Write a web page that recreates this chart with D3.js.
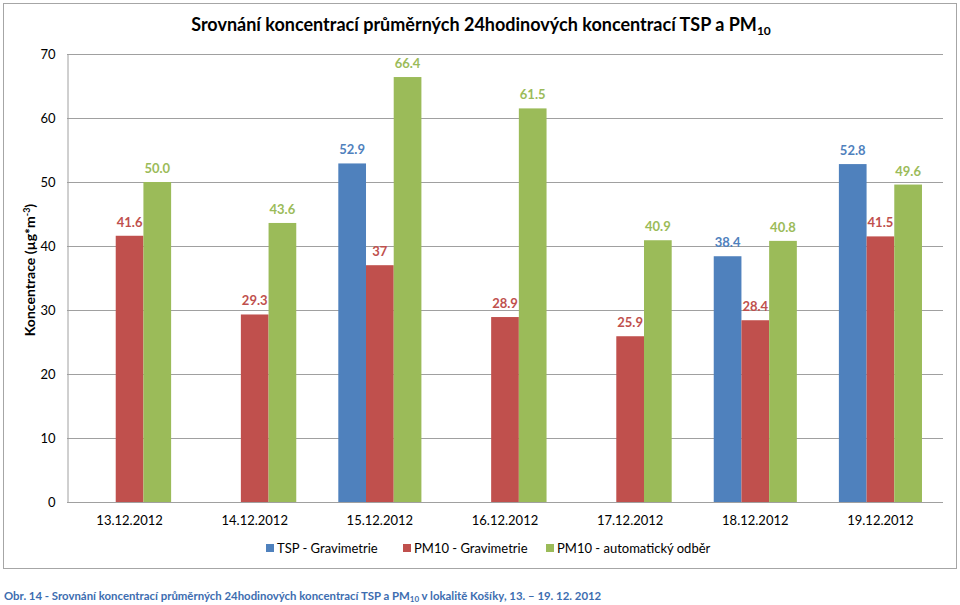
<!DOCTYPE html>
<html><head><meta charset="utf-8">
<script src="https://cdn.jsdelivr.net/npm/d3@7"></script>
<style>
body{margin:0;background:#fff;}
svg{font-family:Lato,"Open Sans",sans-serif;}
</style></head>
<body><svg id="c" width="960" height="605"></svg>
<script>
const categories = ["13.12.2012","14.12.2012","15.12.2012","16.12.2012","17.12.2012","18.12.2012","19.12.2012"];
const seriesNames = ["TSP - Gravimetrie","PM10 - Gravimetrie","PM10 - automatický odběr"];
const tspValues = [null,null,52.9,null,null,38.4,52.8];
const pm10GravValues = [41.6,29.3,37,28.9,25.9,28.4,41.5];
const pm10AutoValues = [50.0,43.6,66.4,61.5,40.9,40.8,49.6];
const tspLabels = [null,null,"52.9",null,null,"38.4","52.8"];
const pm10GravLabels = ["41.6","29.3","37","28.9","25.9","28.4","41.5"];
const pm10AutoLabels = ["50.0","43.6","66.4","61.5","40.9","40.8","49.6"];
const yTicks = [0,10,20,30,40,50,60,70];
const colors = ["#4F81BD","#C0504D","#9BBB59"];

const series = [tspValues,pm10GravValues,pm10AutoValues];
const labels = [tspLabels,pm10GravLabels,pm10AutoLabels];

const svg = d3.select("#c");
const m = {l:67, r:943, t:54, b:502};

svg.append("rect").attr("x",3.5).attr("y",3.5).attr("width",953).attr("height",565)
  .attr("fill","none").attr("stroke","#a6a6a6").attr("stroke-width",1);

const x0 = d3.scaleBand().domain(categories).range([m.l,m.r]).paddingInner(0.336).paddingOuter(0.168);
const x1 = d3.scaleBand().domain([0,1,2]).range([0,x0.bandwidth()]);
const y = d3.scaleLinear().domain([0,70]).range([m.b,m.t]);

// gridlines
svg.append("g").selectAll("line").data(yTicks.filter(d=>d>0)).join("line")
  .attr("x1",m.l).attr("x2",m.r).attr("y1",d=>Math.round(y(d))+0.5).attr("y2",d=>Math.round(y(d))+0.5)
  .attr("stroke","#a0a0a0").attr("stroke-width",1);

// y axis
const ya = svg.append("g").attr("transform",`translate(${m.l+0.5},0)`)
  .call(d3.axisLeft(y).tickValues(yTicks).tickSize(0).tickPadding(12));
ya.select(".domain").attr("stroke","#a0a0a0");
ya.selectAll("text").attr("font-size",13).attr("fill","#000").attr("font-family","Lato, sans-serif");

// bars
const gs = svg.append("g").selectAll("g").data(categories).join("g")
  .attr("transform",d=>`translate(${x0(d)},0)`);
series.forEach((vals,si)=>{
  gs.filter((d,i)=>vals[i]!=null).append("rect")
    .attr("x",x1(si)).attr("width",x1.bandwidth())
    .attr("y",(d)=>y(vals[categories.indexOf(d)]))
    .attr("height",(d)=>y(0)-y(vals[categories.indexOf(d)]))
    .attr("fill",colors[si]);
  gs.filter((d,i)=>vals[i]!=null).append("text")
    .attr("x",x1(si)+x1.bandwidth()/2)
    .attr("y",(d)=>y(vals[categories.indexOf(d)])-9)
    .attr("text-anchor","middle").attr("font-size",13).attr("font-weight","bold")
    .attr("fill",colors[si])
    .text(d=>labels[si][categories.indexOf(d)]);
});

// x axis
const xa = svg.append("g").attr("transform",`translate(0,${m.b+0.5})`)
  .call(d3.axisBottom(x0).tickSize(0).tickPadding(13));
xa.select(".domain").attr("stroke","#a0a0a0").attr("d",`M${m.l},0H${m.r}`);
xa.selectAll("text").attr("font-size",13).attr("fill","#000").attr("font-family","Lato, sans-serif");

// title
const t = svg.append("text").attr("x",481).attr("y",31).attr("text-anchor","middle")
  .attr("font-size",18).attr("font-weight","bold").attr("fill","#000");
t.append("tspan").text("Srovnání koncentrací průměrných 24hodinových koncentrací TSP a PM");
t.append("tspan").attr("font-size",12).attr("dy",4).text("10");

// y label
const yl = svg.append("text").attr("transform","translate(35,270) rotate(-90)").attr("text-anchor","middle")
  .attr("font-size",14).attr("font-weight","bold").attr("fill","#000");
yl.append("tspan").text("Koncentrace (µg*m");
yl.append("tspan").attr("font-size",9).attr("dy",-5).text("-3");
yl.append("tspan").attr("dy",5).text(")");

// legend
const legX = [266,403,546];
const lg = svg.append("g").selectAll("g").data(seriesNames).join("g")
  .attr("transform",(d,i)=>`translate(${legX[i]},548)`);
lg.append("rect").attr("x",0).attr("y",-4).attr("width",8).attr("height",8).attr("fill",(d,i)=>colors[i]);
lg.append("text").attr("x",11).attr("y",5).attr("font-size",13).attr("fill","#000").text(d=>d);

// caption
const cap = svg.append("text").attr("x",4).attr("y",600).attr("font-size",11.4).attr("font-weight","bold").attr("fill","#3d6db0");
cap.append("tspan").text("Obr. 14 - Srovnání koncentrací průměrných 24hodinových koncentrací TSP a PM");
cap.append("tspan").attr("font-size",8).attr("dy",2).text("10");
cap.append("tspan").attr("dy",-2).text(" v lokalitě Košíky, 13. – 19. 12. 2012");
</script></body></html>
